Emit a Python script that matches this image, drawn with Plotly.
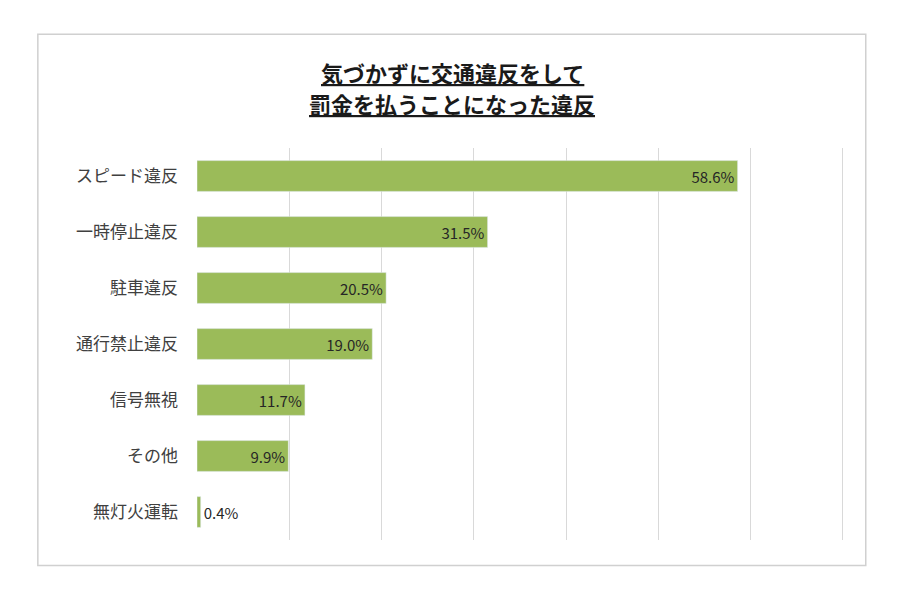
import plotly.graph_objects as go

categories = ["スピード違反", "一時停止違反", "駐車違反", "通行禁止違反", "信号無視", "その他", "無灯火運転"]
values = [58.6, 31.5, 20.5, 19.0, 11.7, 9.9, 0.4]
labels = [f"{v:.1f}%" for v in values]
positions = ["inside"] * 6 + ["outside"]
title_lines = ["気づかずに交通違反をして", "罰金を払うことになった違反"]

font = "Noto Sans CJK JP"

fig = go.Figure(go.Bar(
    y=categories, x=values, orientation="h",
    marker=dict(color="#9BBB59"),
    text=labels, textposition=positions, insidetextanchor="end",
    textfont=dict(family=font, size=15, color="#262626"),
    cliponaxis=False,
))

fig.update_layout(
    width=900, height=600,
    paper_bgcolor="white", plot_bgcolor="white",
    margin=dict(l=189, r=56, t=140, b=68, autoexpand=False),
    bargap=0.45,
    showlegend=False,
    xaxis=dict(range=[0, 71], dtick=10, showticklabels=False, automargin=False,
               showgrid=True, gridcolor="#d9d9d9", gridwidth=1, zeroline=False),
    yaxis=dict(autorange="reversed", ticklabelstandoff=18, automargin=False,
               tickfont=dict(family=font, size=17, color="#404040")),
    shapes=[dict(type="rect", xref="paper", yref="paper",
                 x0=-0.243, x1=1.021, y0=-0.065, y1=1.29,
                 line=dict(color="#d0d0d0", width=1.5))],
)

for line, y in zip(title_lines, [1.194, 1.115]):
    fig.add_annotation(text=f"<b><u>{line}</u></b>", xref="paper", yref="paper",
                       x=0.39, y=y, xanchor="center", yanchor="middle", showarrow=False,
                       font=dict(family=font, size=22, color="#1a1a1a"))

fig.write_html("out.html")
